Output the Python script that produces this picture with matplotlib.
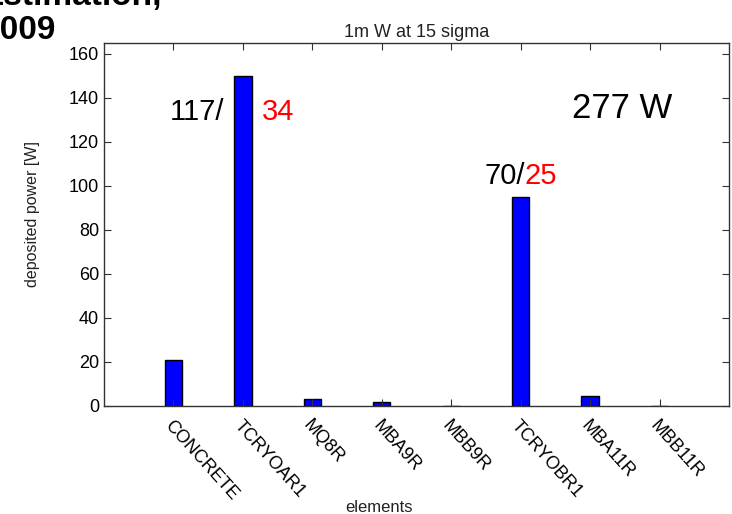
import matplotlib.pyplot as plt

plt.rcParams['font.family'] = ['Liberation Sans', 'DejaVu Sans']

elements = ['CONCRETE', 'TCRYOAR1', 'MQ8R', 'MBA9R', 'MBB9R', 'TCRYOBR1', 'MBA11R', 'MBB11R']
power = [21, 150, 3, 2, 0, 95, 4.4, 0]

fig = plt.figure(figsize=(7.32, 5.14), dpi=100)
ax = fig.add_axes([104 / 732, 1 - 406 / 514, (729 - 104) / 732, (406 - 43) / 514])

x = list(range(len(elements)))
ax.bar(x, power, width=0.25, color='#0000ff', edgecolor='black', linewidth=1)

ax.set_xlim(-1, 8)
ax.set_ylim(0, 165)
ax.set_yticks(range(0, 161, 20))
ax.set_xticks(x)
ax.set_xticklabels(elements, rotation=-48, ha='left', va='top',
                   rotation_mode='anchor', fontsize=13)
ax.tick_params(direction='in', top=True, right=True, length=5, labelsize=13,
               color='#333333')
ax.tick_params(axis='x', pad=8)
for s in ax.spines.values():
    s.set_color('#333333')
    s.set_linewidth(1)

ax.set_title('1m W at 15 sigma', fontsize=13, pad=4, color='#222222')
ax.set_xlabel('elements', fontsize=12, color='#222222')
ax.set_ylabel('deposited power [W]', fontsize=11.5, color='#222222')
ax.xaxis.set_label_coords(0.44, -0.26)
ax.yaxis.set_label_coords(-0.103, 0.53)

# annotations
ax.text(0.73, 130, '117/', fontsize=21, ha='right', va='baseline')
ax.text(1.28, 130, '34', fontsize=21, color='red', ha='left', va='baseline')
ax.text(5.06, 101, '70/', fontsize=21, ha='right', va='baseline')
ax.text(5.06, 101, '25', fontsize=21, color='red', ha='left', va='baseline')
ax.text(5.74, 131, '277 W', fontsize=25, ha='left', va='baseline')

# slide title, cut off at the edge
fig.text(-0.025, 1 - 39 / 514, '2009', fontsize=24, fontweight='bold', va='baseline')
fig.text(-0.025, 1 - 5 / 514, 'Estimation,', fontsize=24, fontweight='bold', va='baseline')

fig.savefig('out.png', dpi=100)
